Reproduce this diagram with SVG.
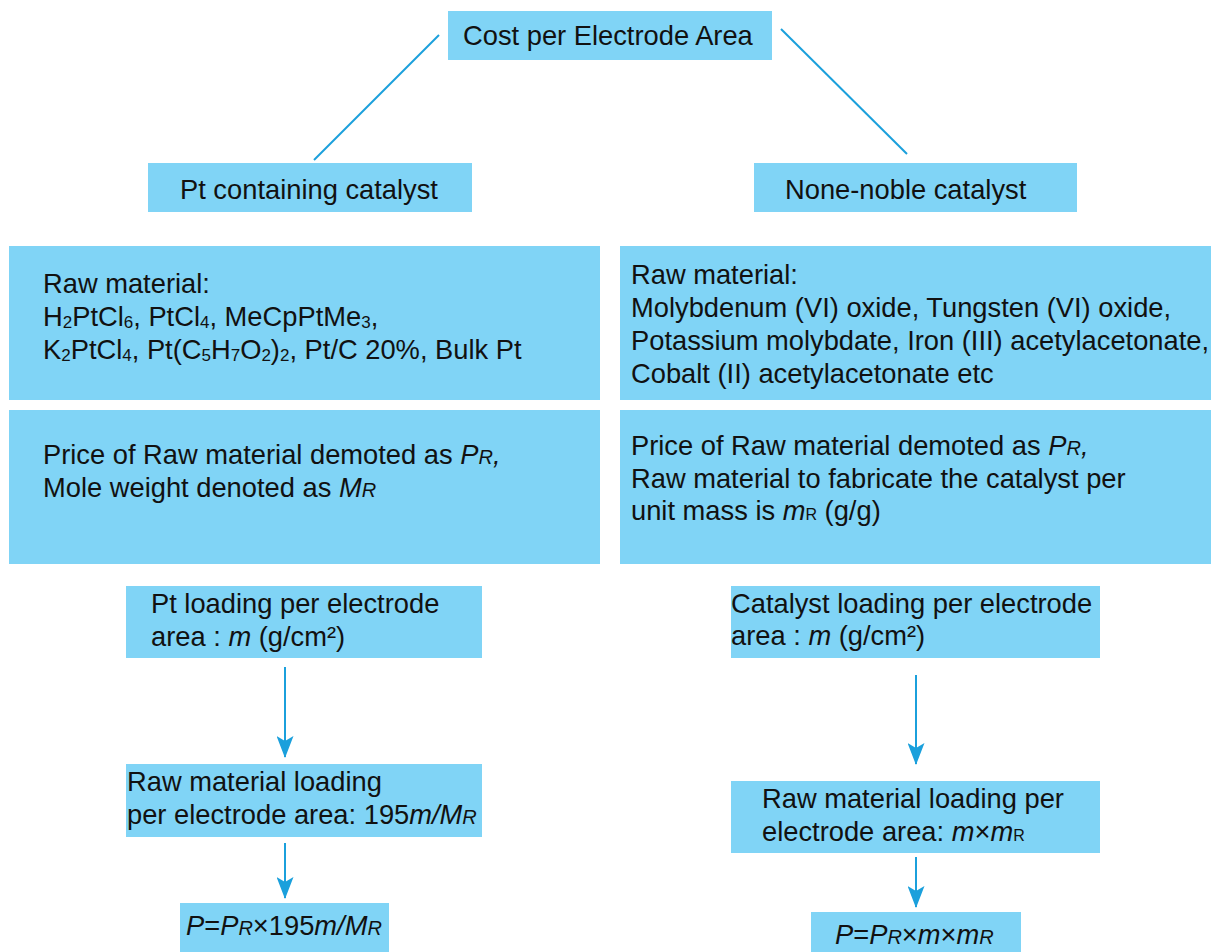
<svg xmlns="http://www.w3.org/2000/svg" width="1219" height="952" viewBox="0 0 1219 952">
<defs>
<style>
.box{fill:#80d4f6}
.t{font-family:"Liberation Sans",Arial,sans-serif;font-size:27.3px;fill:#111}
.s{font-size:17px}
.i{font-style:italic}
.r{font-size:20px;font-style:italic}
.u{font-size:16px}
.ln{stroke:#1ba0dc;stroke-width:2;fill:none}
</style>
<marker id="ah" markerUnits="userSpaceOnUse" viewBox="0 0 22 17" markerWidth="22" markerHeight="17" refX="21" refY="8.5" orient="auto">
<path d="M0,0 L22,8.5 L0,17 L5,8.5 Z" fill="#1ba0dc"/>
</marker>
</defs>
<rect width="1219" height="952" fill="#fff"/>

<g id="connectors">
<line class="ln" x1="439" y1="35" x2="314" y2="160"/>
<line class="ln" x1="781" y1="29" x2="907" y2="154"/>
<line class="ln" x1="285" y1="667" x2="285" y2="757" marker-end="url(#ah)"/>
<line class="ln" x1="285" y1="843" x2="285" y2="898" marker-end="url(#ah)"/>
<line class="ln" x1="916" y1="675" x2="916" y2="764" marker-end="url(#ah)"/>
<line class="ln" x1="916" y1="857" x2="916" y2="907" marker-end="url(#ah)"/>
</g>

<g id="root">
<rect class="box" x="448" y="11" width="324" height="49"/>
<text class="t" x="463" y="45">Cost per Electrode Area</text>
</g>

<g id="pt-catalyst">
<rect class="box" x="148" y="163" width="324" height="49"/>
<text class="t" x="180" y="199">Pt containing catalyst</text>
</g>

<g id="nonnoble-catalyst">
<rect class="box" x="754" y="163" width="323" height="49"/>
<text class="t" x="785" y="199">None-noble catalyst</text>
</g>

<g id="pt-raw">
<rect class="box" x="9" y="246" width="591" height="154"/>
<text class="t" x="43" y="293">Raw material:</text>
<text class="t" x="43" y="326">H<tspan class="s" dy="2">2</tspan><tspan dy="-2">PtCl</tspan><tspan class="s" dy="2">6</tspan><tspan dy="-2">, PtCl</tspan><tspan class="s" dy="2">4</tspan><tspan dy="-2">, MeCpPtMe</tspan><tspan class="s" dy="2">3</tspan><tspan dy="-2">,</tspan></text>
<text class="t" x="43" y="359">K<tspan class="s" dy="2">2</tspan><tspan dy="-2">PtCl</tspan><tspan class="s" dy="2">4</tspan><tspan dy="-2">, Pt(C</tspan><tspan class="s" dy="2">5</tspan><tspan dy="-2">H</tspan><tspan class="s" dy="2">7</tspan><tspan dy="-2">O</tspan><tspan class="s" dy="2">2</tspan><tspan dy="-2">)</tspan><tspan class="s" dy="2">2</tspan><tspan dy="-2">, Pt/C 20%, Bulk Pt</tspan></text>
</g>

<g id="pt-price">
<rect class="box" x="9" y="410" width="591" height="154"/>
<text class="t" x="43" y="464">Price of Raw material demoted as <tspan class="i">P</tspan><tspan class="r">R</tspan><tspan class="i">,</tspan></text>
<text class="t" x="43" y="497">Mole weight denoted as <tspan class="i">M</tspan><tspan class="r">R</tspan></text>
</g>

<g id="nn-raw">
<rect class="box" x="620" y="246" width="591" height="154"/>
<text class="t" x="631" y="284">Raw material:</text>
<text class="t" x="631" y="317">Molybdenum (VI) oxide, Tungsten (VI) oxide,</text>
<text class="t" x="631" y="350">Potassium molybdate, Iron (III) acetylacetonate,</text>
<text class="t" x="631" y="383">Cobalt (II) acetylacetonate etc</text>
</g>

<g id="nn-price">
<rect class="box" x="620" y="410" width="591" height="154"/>
<text class="t" x="631" y="455">Price of Raw material demoted as <tspan class="i">P</tspan><tspan class="r">R</tspan><tspan class="i">,</tspan></text>
<text class="t" x="631" y="488">Raw material to fabricate the catalyst per</text>
<text class="t" x="631" y="520">unit mass is <tspan class="i">m</tspan><tspan class="u">R</tspan> (g/g)</text>
</g>

<g id="pt-loading">
<rect class="box" x="126" y="586" width="356" height="72"/>
<text class="t" x="151" y="613">Pt loading per electrode</text>
<text class="t" x="151" y="646">area : <tspan class="i">m</tspan> (g/cm²)</text>
</g>

<g id="pt-raw-loading">
<rect class="box" x="126" y="764" width="356" height="73"/>
<text class="t" x="127" y="791">Raw material loading</text>
<text class="t" x="127" y="824">per electrode area: 195<tspan class="i">m/M</tspan><tspan class="r">R</tspan></text>
</g>

<g id="pt-price-result">
<rect class="box" x="180" y="903" width="209" height="49"/>
<text class="t" x="186" y="935"><tspan class="i">P</tspan>=<tspan class="i">P</tspan><tspan class="r">R</tspan>×195<tspan class="i">m/M</tspan><tspan class="r">R</tspan></text>
</g>

<g id="nn-loading">
<rect class="box" x="731" y="586" width="369" height="72"/>
<text class="t" x="731" y="613">Catalyst loading per electrode</text>
<text class="t" x="731" y="645">area : <tspan class="i">m</tspan> (g/cm²)</text>
</g>

<g id="nn-raw-loading">
<rect class="box" x="731" y="781" width="369" height="72"/>
<text class="t" x="762" y="808">Raw material loading per</text>
<text class="t" x="762" y="841">electrode area: <tspan class="i">m</tspan>×<tspan class="i">m</tspan><tspan class="u">R</tspan></text>
</g>

<g id="nn-price-result">
<rect class="box" x="811" y="912" width="210" height="40"/>
<text class="t" x="835" y="944"><tspan class="i">P</tspan>=<tspan class="i">P</tspan><tspan class="r">R</tspan>×<tspan class="i">m</tspan>×<tspan class="i">m</tspan><tspan class="r">R</tspan></text>
</g>
</svg>
